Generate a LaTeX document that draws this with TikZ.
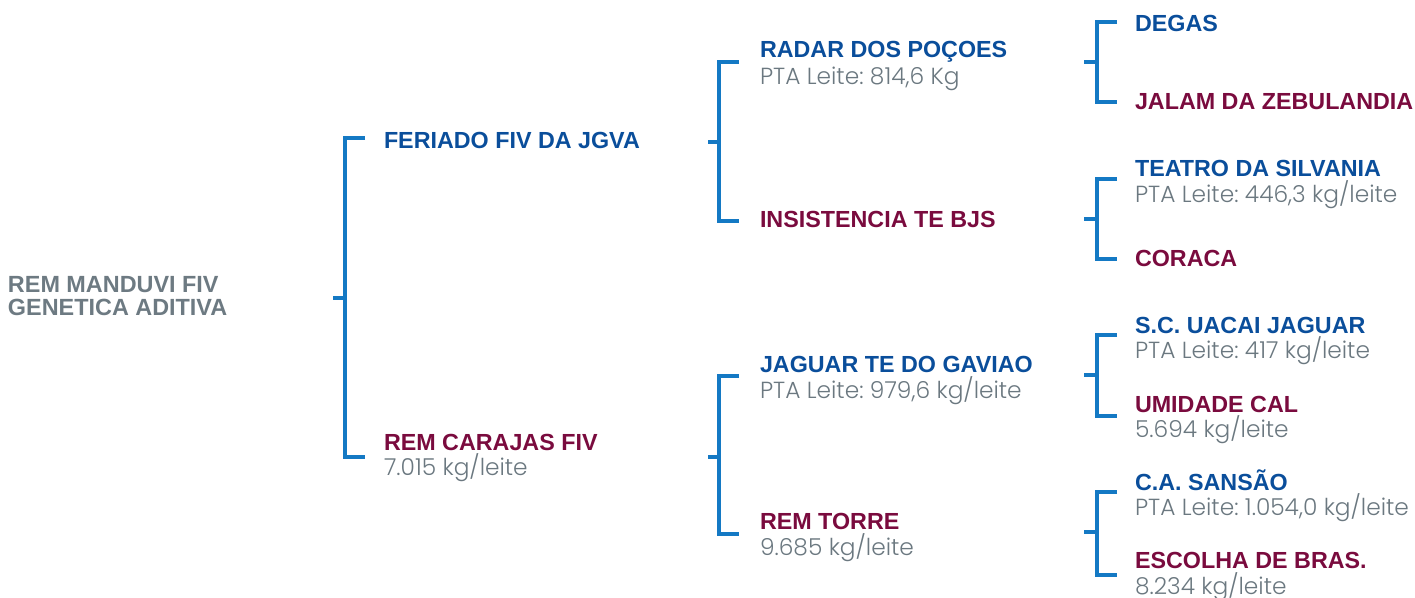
\documentclass[tikz,border=0pt]{standalone}
\usepackage{fontspec}
\setmainfont{Liberation Sans}
\newfontfamily\subfont{Poppins Light}
\frenchspacing
\definecolor{nblue}{HTML}{0A4E9B}
\definecolor{nred}{HTML}{7A0B3E}
\definecolor{brk}{HTML}{1479C4}
\definecolor{sgray}{HTML}{6B7880}
\definecolor{rgray}{HTML}{6D7A82}
\tikzset{
  lbl/.style={anchor=base west,inner sep=0pt,outer sep=0pt},
  bname/.style={lbl,text=nblue,font=\bfseries\fontsize{23.3}{23.3}\selectfont},
  rname/.style={lbl,text=nred,font=\bfseries\fontsize{23.3}{23.3}\selectfont},
  subt/.style={lbl,text=sgray,font=\subfont\fontsize{23.3}{23.3}\selectfont},
  rootl/.style={lbl,text=rgray,font=\bfseries\fontsize{23.4}{23.4}\selectfont},
  brack/.style={draw=brk,line width=3.3pt,line cap=butt,line join=miter}
}
% bracket: name, stub-left x, vertical x, tick end x, top y, mid y, bottom y
\newcommand\mybracket[7]{%
  \coordinate (#1s) at (#2,#6);
  \coordinate (#1m) at (#3,#6);
  \coordinate (#1a) at (#4,#5);
  \coordinate (#1b) at (#4,#7);
  \draw[brack] (#1a) -| (#1m) |- (#1b);
  \draw[brack] (#1s) -- (#1m);
}
\begin{document}
\begin{tikzpicture}[x=1pt,y=-1pt]
\useasboundingbox (0,0) rectangle (1415,597);
% root
\node[rootl] (root1) at (8,292) {REM MANDUVI FIV};
\node[rootl] (root2) at (8,315) {GENETICA ADITIVA};
% level 1
\node[bname] (p1) at (384,148) {FERIADO FIV DA JGVA};
\node[rname] (p2) at (384,450) {REM CARAJAS FIV};
\node[subt] (p2s) at (384,475) {7.015 kg/leite};
% level 2
\node[bname] (g1) at (760,57) {RADAR DOS POÇOES};
\node[subt] (g1s) at (760,84) {PTA Leite: 814,6 Kg};
\node[rname] (g2) at (760,227) {INSISTENCIA TE BJS};
\node[bname] (g3) at (760,372) {JAGUAR TE DO GAVIAO};
\node[subt] (g3s) at (760,398) {PTA Leite: 979,6 kg/leite};
\node[rname] (g4) at (760,529) {REM TORRE};
\node[subt] (g4s) at (760,555) {9.685 kg/leite};
% level 3
\node[bname] (h1) at (1135,31) {DEGAS};
\node[rname] (h2) at (1135,109) {JALAM DA ZEBULANDIA};
\node[bname] (h3) at (1135,176) {TEATRO DA SILVANIA};
\node[subt] (h3s) at (1135,202) {PTA Leite: 446,3 kg/leite};
\node[rname] (h4) at (1135,266) {CORACA};
\node[bname] (h5) at (1135,333) {S.C. UACAI JAGUAR};
\node[subt] (h5s) at (1135,358) {PTA Leite: 417 kg/leite};
\node[rname] (h6) at (1135,412) {UMIDADE CAL};
\node[subt] (h6s) at (1135,437) {5.694 kg/leite};
\node[bname] (h7) at (1135,490) {C.A. SANSÃO};
\node[subt] (h7s) at (1135,515) {PTA Leite: 1.054,0 kg/leite};
\node[rname] (h8) at (1135,568) {ESCOLHA DE BRAS.};
\node[subt] (h8s) at (1135,594) {8.234 kg/leite};
% brackets
\mybracket{ba}{333}{345}{365}{138}{298}{457}
\mybracket{bb}{708}{719}{739}{62}{142}{221}
\mybracket{bc}{708}{719}{739}{376}{457}{534}
\mybracket{bd}{1084}{1097}{1117}{22}{62}{102}
\mybracket{be}{1084}{1097}{1117}{179}{219}{259}
\mybracket{bf}{1084}{1097}{1117}{335}{375}{416}
\mybracket{bg}{1084}{1097}{1117}{492}{532}{575}
\end{tikzpicture}
\end{document}
